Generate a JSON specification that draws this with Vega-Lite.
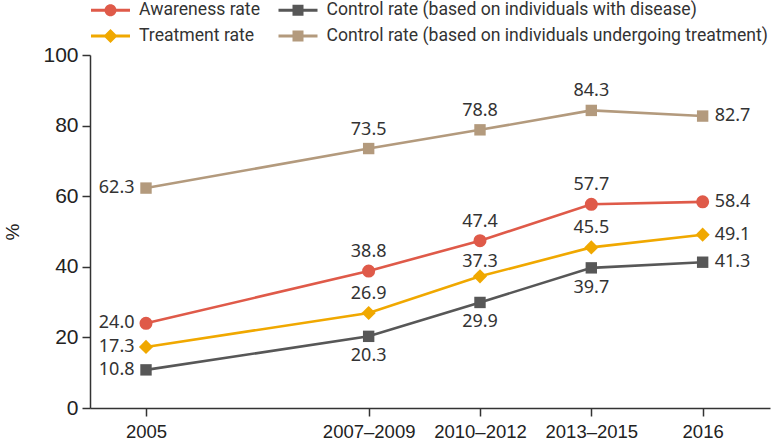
{
  "$schema": "https://vega.github.io/schema/vega-lite/v6.json",
  "width": 680,
  "height": 353,
  "autosize": {"type": "none"},
  "padding": {"left": 90, "top": 55, "right": 4, "bottom": 35},
  "background": "white",
  "config": {
    "view": {"stroke": null},
    "axis": {"grid": false, "domainColor": "#333333", "tickColor": "#333333", "domainWidth": 1.5, "tickWidth": 1.5, "tickSize": 8, "labelColor": "#222222", "labelFont": "Liberation Sans", "titleFont": "Liberation Sans", "titleFontWeight": "normal", "titleColor": "#222222"}
  },
  "data": {
    "values": [
      {"series": "Awareness rate", "period": "2005", "value": 24.0},
      {"series": "Awareness rate", "period": "2007–2009", "value": 38.8},
      {"series": "Awareness rate", "period": "2010–2012", "value": 47.4},
      {"series": "Awareness rate", "period": "2013–2015", "value": 57.7},
      {"series": "Awareness rate", "period": "2016", "value": 58.4},
      {"series": "Treatment rate", "period": "2005", "value": 17.3},
      {"series": "Treatment rate", "period": "2007–2009", "value": 26.9},
      {"series": "Treatment rate", "period": "2010–2012", "value": 37.3},
      {"series": "Treatment rate", "period": "2013–2015", "value": 45.5},
      {"series": "Treatment rate", "period": "2016", "value": 49.1},
      {"series": "Control rate (based on individuals with disease)", "period": "2005", "value": 10.8},
      {"series": "Control rate (based on individuals with disease)", "period": "2007–2009", "value": 20.3},
      {"series": "Control rate (based on individuals with disease)", "period": "2010–2012", "value": 29.9},
      {"series": "Control rate (based on individuals with disease)", "period": "2013–2015", "value": 39.7},
      {"series": "Control rate (based on individuals with disease)", "period": "2016", "value": 41.3},
      {"series": "Control rate (based on individuals undergoing treatment)", "period": "2005", "value": 62.3},
      {"series": "Control rate (based on individuals undergoing treatment)", "period": "2007–2009", "value": 73.5},
      {"series": "Control rate (based on individuals undergoing treatment)", "period": "2010–2012", "value": 78.8},
      {"series": "Control rate (based on individuals undergoing treatment)", "period": "2013–2015", "value": 84.3},
      {"series": "Control rate (based on individuals undergoing treatment)", "period": "2016", "value": 82.7}
    ]
  },
  "encoding": {
    "x": {
      "field": "period", "type": "ordinal",
      "scale": {"type": "point", "domain": ["2005", " ", "2007–2009", "2010–2012", "2013–2015", "2016"], "padding": 0.554, "align": 0.454},
      "axis": {"title": null, "values": ["2005", "2007–2009", "2010–2012", "2013–2015", "2016"], "labelAngle": 0, "labelFontSize": 18.5, "labelPadding": 6}
    },
    "y": {
      "field": "value", "type": "quantitative",
      "scale": {"domain": [0, 100], "nice": false},
      "axis": {"title": "%", "values": [0, 20, 40, 60, 80, 100], "labelFontSize": 21, "labelPadding": 4, "titleFontSize": 19, "titlePadding": 20}
    },
    "color": {
      "field": "series", "type": "nominal",
      "scale": {"domain": ["Awareness rate", "Control rate (based on individuals with disease)", "Treatment rate", "Control rate (based on individuals undergoing treatment)"], "range": ["#DF5A49", "#575757", "#F0A800", "#B39A7D"]},
      "legend": {
        "orient": "none", "legendX": 10.5, "legendY": -55, "direction": "horizontal", "columns": 2,
        "title": null, "padding": 0, "symbolSize": 400, "symbolStrokeWidth": 0, "symbolOpacity": 1, "symbolType": "circle",
        "labelFont": "Roboto", "labelFontSize": 17.6, "labelColor": "#333333", "labelOffset": 18.5,
        "rowPadding": 7, "columnPadding": 17.5, "labelLimit": 600,
        "encode": {
          "symbols": {
            "update": {
              "fill": {"scale": "color", "field": "value"},
              "strokeWidth": {"value": 0},
              "shape": {"signal": "datum.value === 'Awareness rate' ? 'M-1.95,-0.15H1.95V0.15H-1.95Z M0.6,0A0.6,0.6 0 1 1 -0.6,0A0.6,0.6 0 1 1 0.6,0Z' : datum.value === 'Treatment rate' ? 'M-1.95,-0.15H1.95V0.15H-1.95Z M0,-0.7L0.7,0L0,0.7L-0.7,0Z' : 'M-1.95,-0.15H1.95V0.15H-1.95Z M-0.55,-0.55H0.55V0.55H-0.55Z'"}
            }
          }
        }
      }
    }
  },
  "layer": [
    {
      "mark": {"type": "line", "strokeWidth": 2.6}
    },
    {
      "transform": [{"filter": "datum.series === 'Awareness rate'"}],
      "mark": {"type": "point", "shape": "circle", "filled": true, "opacity": 1, "size": 170}
    },
    {
      "transform": [{"filter": "datum.series === 'Treatment rate'"}],
      "mark": {"type": "point", "shape": "diamond", "filled": true, "opacity": 1, "size": 200}
    },
    {
      "transform": [{"filter": "datum.series !== 'Awareness rate' && datum.series !== 'Treatment rate'"}],
      "mark": {"type": "point", "shape": "square", "filled": true, "opacity": 1, "size": 130}
    },
    {
      "transform": [{"filter": "datum.period === '2005'"}],
      "mark": {"type": "text", "align": "right", "baseline": "middle", "dx": -11.5, "font": "Noto Sans", "fontSize": 18, "color": "#333333"},
      "encoding": {"text": {"field": "value", "type": "quantitative", "format": ".1f"}, "color": {"value": "#333333"}}
    },
    {
      "transform": [{"filter": "datum.period === '2016'"}],
      "mark": {"type": "text", "align": "left", "baseline": "middle", "dx": 12, "font": "Noto Sans", "fontSize": 18, "color": "#333333"},
      "encoding": {"text": {"field": "value", "type": "quantitative", "format": ".1f"}, "color": {"value": "#333333"}}
    },
    {
      "transform": [{"filter": "datum.period !== '2005' && datum.period !== '2016' && datum.series !== 'Control rate (based on individuals with disease)' && !(datum.series === 'Treatment rate' && datum.period === '2010–2012')"}],
      "mark": {"type": "text", "align": "center", "baseline": "middle", "dy": -19, "font": "Noto Sans", "fontSize": 18, "color": "#333333"},
      "encoding": {"text": {"field": "value", "type": "quantitative", "format": ".1f"}, "color": {"value": "#333333"}}
    },
    {
      "transform": [{"filter": "datum.series === 'Treatment rate' && datum.period === '2010–2012'"}],
      "mark": {"type": "text", "align": "center", "baseline": "middle", "dy": -14, "font": "Noto Sans", "fontSize": 18, "color": "#333333"},
      "encoding": {"text": {"field": "value", "type": "quantitative", "format": ".1f"}, "color": {"value": "#333333"}}
    },
    {
      "transform": [{"filter": "datum.period !== '2005' && datum.period !== '2016' && datum.series === 'Control rate (based on individuals with disease)'"}],
      "mark": {"type": "text", "align": "center", "baseline": "middle", "dy": 20, "font": "Noto Sans", "fontSize": 18, "color": "#333333"},
      "encoding": {"text": {"field": "value", "type": "quantitative", "format": ".1f"}, "color": {"value": "#333333"}}
    }
  ]
}
